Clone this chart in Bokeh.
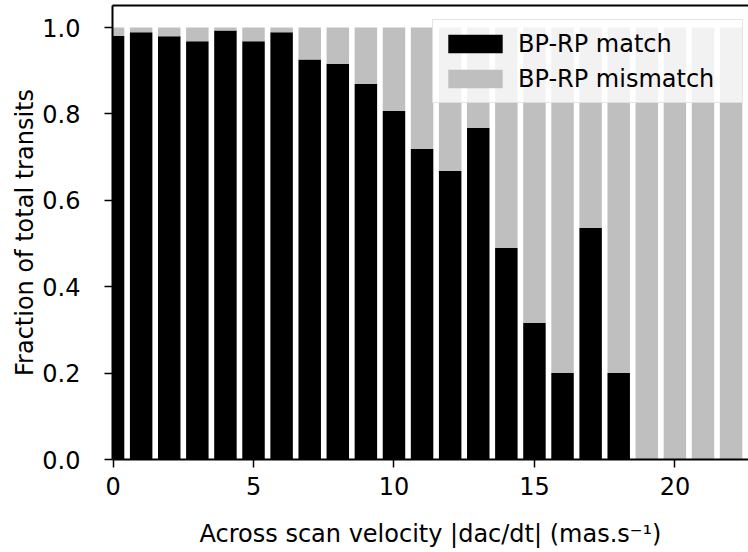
from bokeh.plotting import figure
from bokeh.models import ColumnDataSource, FixedTicker, PrintfTickFormatter, Range1d, Legend, LinearAxis
from bokeh.embed import file_html
from bokeh.resources import INLINE

# Data
velocity_bins = [0, 1, 2, 3, 4, 5, 6, 7, 8, 9, 10, 11, 12, 13, 14, 15, 16, 17, 18, 19, 20, 21, 22]
match_frac = [0.981, 0.989, 0.980, 0.968, 0.993, 0.968, 0.989, 0.926, 0.916, 0.869, 0.807, 0.719,
              0.668, 0.768, 0.490, 0.316, 0.200, 0.536, 0.200, 0.0, 0.0, 0.0, 0.0]
mismatch_frac = [0.019, 0.011, 0.020, 0.032, 0.007, 0.032, 0.011, 0.074, 0.084, 0.131, 0.193, 0.281,
                 0.332, 0.232, 0.510, 0.684, 0.800, 0.464, 0.800, 1.0, 1.0, 1.0, 1.0]
series_names = ["BP-RP match", "BP-RP mismatch"]
x_ticks = [0, 5, 10, 15, 20]
y_ticks = [0.0, 0.2, 0.4, 0.6, 0.8, 1.0]

FONT = "DejaVu Sans"
FS = "24px"

source = ColumnDataSource(dict(x=velocity_bins, match=match_frac, mismatch=mismatch_frac))

p = figure(width=748, height=552, output_backend="svg", toolbar_location=None,
           x_range=Range1d(-0.02, 22.62), y_range=Range1d(0, 1.051),
           min_border_left=112, min_border_right=0, min_border_top=5, min_border_bottom=93)

xax = p.below[0]
yax = p.left[0]

renderers = p.vbar_stack(["match", "mismatch"], x="x", width=0.8, source=source,
                         color=["#000000", "#bfbfbf"], line_color=None)

p.outline_line_color = None
p.xgrid.visible = False
p.ygrid.visible = False
p.background_fill_color = "white"
p.border_fill_color = "white"

# top spine (no right spine visible in the reference)
top_axis = LinearAxis(ticker=FixedTicker(ticks=[]), axis_line_width=2, axis_line_color="black",
                      major_tick_line_color=None, minor_tick_line_color=None,
                      major_tick_in=0, major_tick_out=0,
                      major_label_text_font_size="0px", major_label_standoff=0,
                      axis_label_standoff=0, axis_label_text_font_size="0px")
p.add_layout(top_axis, "above")

for ax in (xax, yax):
    ax.axis_line_width = 2
    ax.axis_line_color = "black"
    ax.major_tick_line_width = 1.5
    ax.major_tick_line_color = "black"
    ax.major_tick_in = 0
    ax.major_tick_out = 8
    ax.minor_tick_line_color = None
    ax.major_label_text_font = FONT
    ax.major_label_text_font_size = FS
    ax.major_label_text_color = "black"
    ax.axis_label_text_font = FONT
    ax.axis_label_text_font_size = FS
    ax.axis_label_text_font_style = "normal"
    ax.axis_label_text_color = "black"

xax.ticker = FixedTicker(ticks=x_ticks)
yax.ticker = FixedTicker(ticks=y_ticks)
yax.formatter = PrintfTickFormatter(format="%.1f")
xax.axis_label = "Across scan velocity |dac/dt| (mas.s\u207b\u00b9)"
yax.axis_label = "Fraction of total transits"
xax.major_label_standoff = 9
yax.major_label_standoff = 24
xax.axis_label_standoff = 22
yax.axis_label_standoff = 0

legend = Legend(items=[(series_names[0], [renderers[0]]), (series_names[1], [renderers[1]])],
                location=(320, 356))
legend.margin = 0
legend.padding = 8
legend.spacing = 4
legend.glyph_width = 68
legend.glyph_height = 23
legend.label_height = 31
legend.label_width = 216
legend.label_standoff = 9
legend.label_text_font = FONT
legend.label_text_font_size = FS
legend.label_text_color = "black"
legend.background_fill_color = "white"
legend.background_fill_alpha = 0.8
legend.border_line_color = "#cccccc"
legend.border_line_width = 1.5
p.add_layout(legend)

open("out.html", "w").write(file_html(p, INLINE))
